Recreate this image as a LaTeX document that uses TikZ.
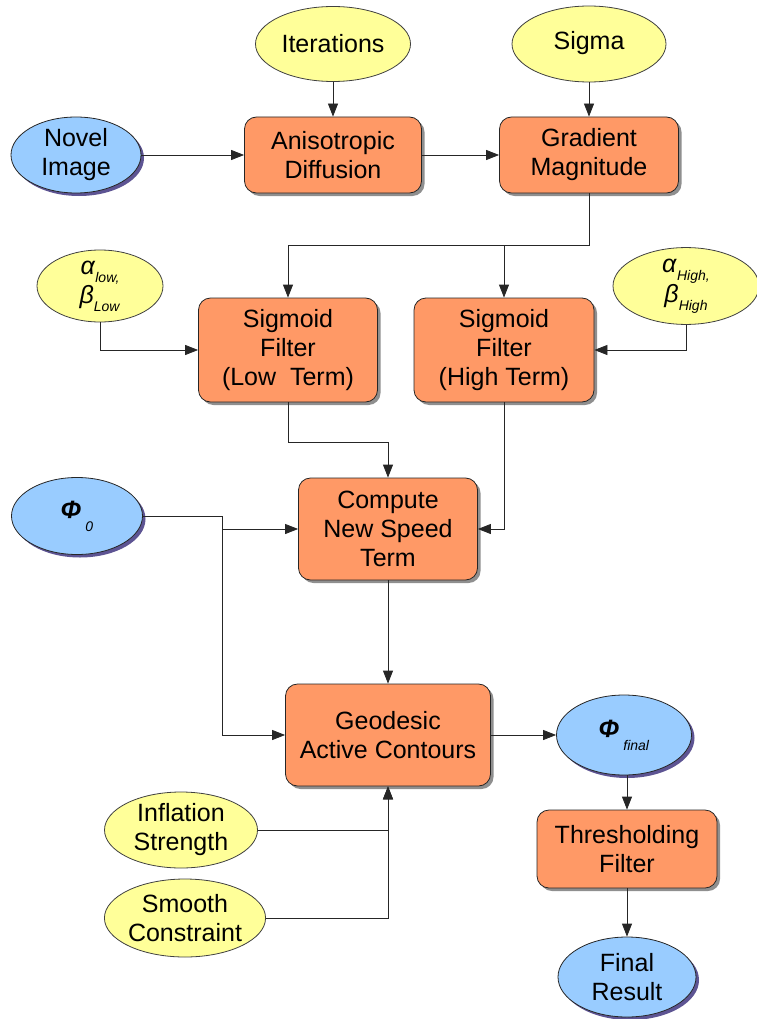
\documentclass[tikz,border=0pt]{standalone}
\usepackage{fontspec}
\setmainfont{Liberation Sans}
\usetikzlibrary{shapes.geometric,shadows,arrows.meta}
\definecolor{procfill}{RGB}{255,153,102}
\definecolor{datafill}{RGB}{153,204,255}
\definecolor{parmfill}{RGB}{255,255,153}
\definecolor{datashade}{RGB}{75,65,135}
\newcommand{\lowsub}[2][-8pt]{\raisebox{#1}{\fontsize{14}{14}\selectfont\textit{#2}}}
\tikzset{
    proc/.style={rectangle, rounded corners=12pt, draw=black!85, line width=0.8pt, fill=procfill,
        align=center, inner sep=0pt, font=\fontsize{25}{29}\selectfont,
        drop shadow={shadow xshift=3pt, shadow yshift=-3pt, fill=black!55, opacity=0.8}},
    data/.style={ellipse, draw=black!85, line width=0.8pt, fill=datafill, align=center, inner sep=0pt,
        font=\fontsize{25}{29}\selectfont,
        drop shadow={shadow xshift=3pt, shadow yshift=-3pt, fill=datashade, opacity=0.9}},
    parm/.style={ellipse, draw=black!75, line width=0.8pt, fill=parmfill, align=center, inner sep=0pt,
        font=\fontsize{25}{29}\selectfont},
    arr/.style={draw=black!85, line width=0.8pt, -{Triangle[length=13pt,width=10pt]}},
    link/.style={draw=black!85, line width=0.8pt}
}
\begin{document}
\begin{tikzpicture}[x=1pt,y=-1pt]
    \useasboundingbox (0,0) rectangle (756,1019);
    \node[parm, minimum width=155pt, minimum height=75pt] (iter) at (333,44) {Iterations};
    \node[parm, minimum width=154pt, minimum height=76pt] (sigma) at (589,44) {\strut Sigma};
    \node[data, minimum width=130pt, minimum height=76pt] (novel) at (76,155) {Novel\\Image};
    \node[proc, minimum width=177pt, minimum height=76pt] (aniso) at (333,155) {Anisotropic\\Diffusion};
    \node[proc, minimum width=179pt, minimum height=76pt] (grad) at (589,155) {Gradient\\Magnitude};
    \node[parm, minimum width=126pt, minimum height=72pt] (alow) at (100,286)
        {\textit{α}\lowsub{low,}\\\textit{β}\lowsub{Low}};
    \node[parm, minimum width=146pt, minimum height=72pt] (ahigh) at (686,286)
        {\textit{α}\lowsub{High,}\\\textit{β}\lowsub{High}};
    \node[proc, minimum width=179pt, minimum height=104pt] (lowf) at (288,350) {Sigmoid\\Filter\\(Low\ \ Term)};
    \node[proc, minimum width=180pt, minimum height=104pt] (highf) at (504,350) {Sigmoid\\Filter\\(High Term)};
    \node[data, minimum width=131pt, minimum height=77pt] (phi0) at (77,516)
        {\textbf{\textit{Φ}}\,\lowsub[-13pt]{0}};
    \node[proc, minimum width=179pt, minimum height=102pt] (speed) at (388,529) {Compute\\New Speed\\Term};
    \node[proc, minimum width=205pt, minimum height=102pt] (geo) at (388,735) {Geodesic\\Active Contours};
    \node[data, minimum width=135pt, minimum height=80pt] (phif) at (624,735)
        {\textbf{\textit{Φ}}\,\lowsub[-13pt]{final}};
    \node[parm, minimum width=153pt, minimum height=76pt] (infl) at (181,830) {Inflation\\Strength};
    \node[parm, minimum width=154pt, minimum height=78pt] (smooth) at (185,918) {Smooth\\Constraint};
    \node[proc, minimum width=180pt, minimum height=78pt] (thr) at (627,849) {Thresholding\\Filter};
    \node[data, minimum width=138pt, minimum height=80pt] (final) at (627,977) {Final\\Result};
    \coordinate (split) at (589,245);
    \coordinate (lowbend) at (288,442);
    \coordinate (phibend) at (222,516);
    \draw[arr] (iter) -- (aniso);
    \draw[arr] (sigma) -- (grad);
    \draw[arr] (novel) -- (aniso);
    \draw[arr] (aniso) -- (grad);
    \draw[arr] (grad.south) -- (split) -| (lowf.north);
    \draw[arr] (split) -| (highf.north);
    \draw[arr] (alow.south) |- (lowf.west);
    \draw[arr] (ahigh.south) |- (highf.east);
    \draw[arr] (lowf.south) -- (lowbend) -| (speed.north);
    \draw[arr] (highf.south) |- (speed.east);
    \draw[link] (phi0.east) -- (phibend);
    \draw[arr] (phibend) |- (geo.west);
    \draw[arr] (phibend |- speed.west) -- (speed.west);
    \draw[arr] (speed) -- (geo);
    \draw[arr] (geo) -- (phif);
    \draw[arr] (infl.east) -| (geo.south);
    \draw[arr] (smooth.east) -| (geo.south);
    \draw[arr] (thr.north |- phif.south) -- (thr.north);
    \draw[arr] (thr) -- (final);
\end{tikzpicture}
\end{document}
